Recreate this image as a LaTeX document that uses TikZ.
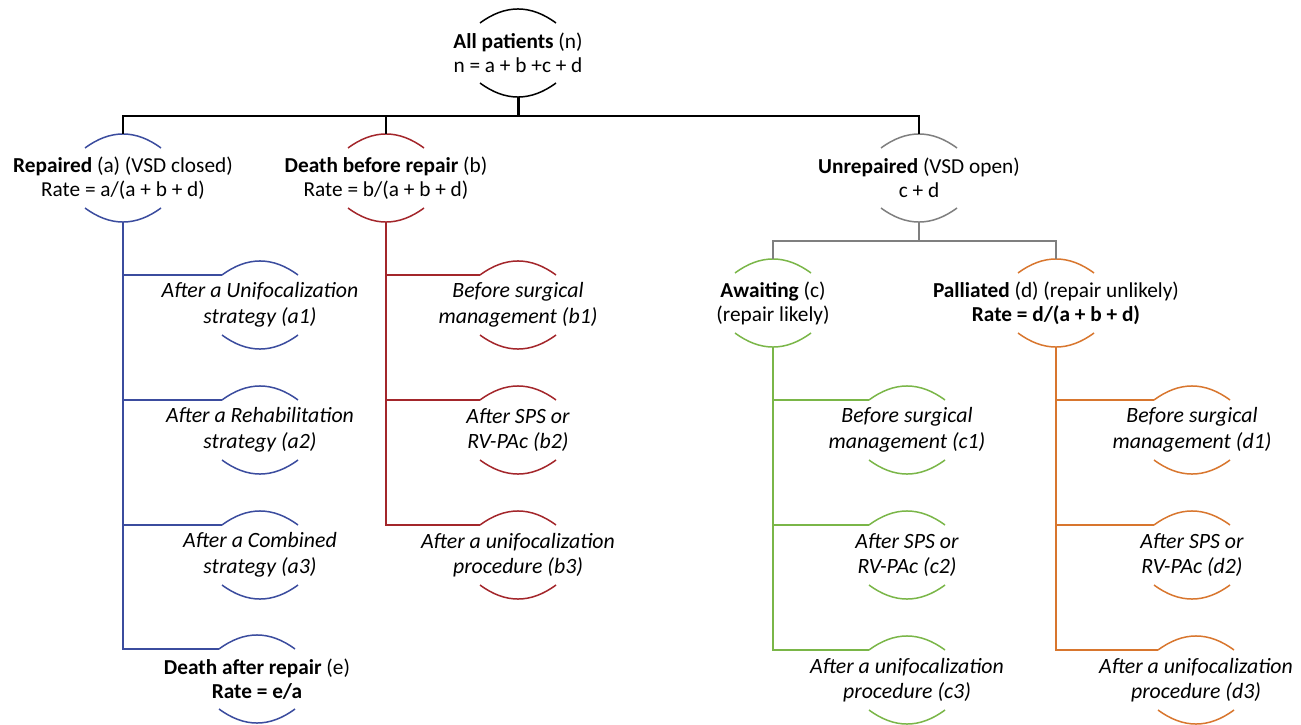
\documentclass[tikz,border=0pt]{standalone}
\usepackage{fontspec}
\setmainfont{Carlito}
\usetikzlibrary{calc}
\definecolor{cblue}{HTML}{3B4C9E}
\definecolor{cred}{HTML}{A3262B}
\definecolor{cgreen}{HTML}{7AB648}
\definecolor{corange}{HTML}{D8762E}
\definecolor{cgray}{HTML}{7F7F7F}
\tikzset{
  big/.style={align=center, inner sep=0pt, font=\fontsize{21.3}{24}\selectfont},
  leaf/.style={align=center, inner sep=0pt, font=\fontsize{21.8}{25.5}\selectfont\itshape},
  arcline/.style={line width=1.5pt},
  conn/.style={line width=1.5pt},
}
% arcs above and below a named node, with anchor coordinates
\newcommand{\capsarcs}[2]{%
  \draw[#2, arcline] ($(#1.center)+(-38,-30)$) .. controls ($(#1.center)+(-12.7,-48.7)$) and ($(#1.center)+(12.7,-48.7)$) .. ($(#1.center)+(38,-30)$);
  \draw[#2, arcline] ($(#1.center)+(-38,30)$) .. controls ($(#1.center)+(-12.7,48.7)$) and ($(#1.center)+(12.7,48.7)$) .. ($(#1.center)+(38,30)$);
  \coordinate (#1-top) at ($(#1.center)+(0,-44)$);
  \coordinate (#1-tl) at ($(#1.center)+(-38,-30)$);
  \coordinate (#1-bot) at ($(#1.center)+(0,44)$);
}
\begin{document}
\begin{tikzpicture}[x=1pt,y=-1pt]
\useasboundingbox (0,0) rectangle (1301,725);
% level 0
\node[big] (root) at (518,53) {\textbf{All patients} (n)\\n = a + b +c + d};
\capsarcs{root}{black}
% level 1
\node[big] (rep) at (123,178) {\textbf{Repaired} (a) (VSD closed)\\Rate = a/(a + b + d)};
\capsarcs{rep}{cblue}
\node[big] (dbr) at (386,178) {\textbf{Death before repair} (b)\\Rate = b/(a + b + d)};
\capsarcs{dbr}{cred}
\node[big] (unr) at (919,178) {\textbf{Unrepaired} (VSD open)\\c + d};
\capsarcs{unr}{cgray}
% level 2 under unrepaired
\node[big] (aw) at (773,303) {\textbf{Awaiting} (c)\\(repair likely)};
\capsarcs{aw}{cgreen}
\node[big] (pal) at (1056,303) {\textbf{Palliated} (d) (repair unlikely)\\\textbf{Rate = d/(a + b + d)}};
\capsarcs{pal}{corange}
% leaves a
\node[leaf] (a1) at (260,305) {After a Unifocalization\\strategy (a1)};
\capsarcs{a1}{cblue}
\node[leaf] (a2) at (260,430) {After a Rehabilitation\\strategy (a2)};
\capsarcs{a2}{cblue}
\node[leaf] (a3) at (260,555) {After a Combined\\strategy (a3)};
\capsarcs{a3}{cblue}
\node[big] (e) at (257,679) {\textbf{Death after repair} (e)\\\textbf{Rate = e/a}};
\capsarcs{e}{cblue}
% leaves b
\node[leaf] (b1) at (518,305) {Before surgical\\management (b1)};
\capsarcs{b1}{cred}
\node[leaf] (b2) at (518,430) {After SPS or\\RV-PAc (b2)};
\capsarcs{b2}{cred}
\node[leaf] (b3) at (518,555) {After a unifocalization\\procedure (b3)};
\capsarcs{b3}{cred}
% leaves c
\node[leaf] (c1) at (907,430) {Before surgical\\management (c1)};
\capsarcs{c1}{cgreen}
\node[leaf] (c2) at (907,555) {After SPS or\\RV-PAc (c2)};
\capsarcs{c2}{cgreen}
\node[leaf] (c3) at (907,680) {After a unifocalization\\procedure (c3)};
\capsarcs{c3}{cgreen}
% leaves d
\node[leaf] (d1) at (1192,430) {Before surgical\\management (d1)};
\capsarcs{d1}{corange}
\node[leaf] (d2) at (1192,555) {After SPS or\\RV-PAc (d2)};
\capsarcs{d2}{corange}
\node[leaf] (d3) at (1196,680) {After a unifocalization\\procedure (d3)};
\capsarcs{d3}{corange}
% connectors level 0 -> 1
\coordinate (hub) at (518,116);
\draw[line width=3pt] (root-bot) -- (hub);
\draw[conn] (hub) -| (rep-top);
\draw[conn] (hub) -| (dbr-top);
\draw[conn] (hub) -| (unr-top);
% unrepaired -> awaiting / palliated
\coordinate (hub2) at (919,241);
\draw[conn, cgray] (unr-bot) -- (hub2);
\draw[conn, cgray] (hub2) -| (aw-top);
\draw[conn, cgray] (hub2) -| (pal-top);
% branches
\foreach \n in {a1,a2,a3,e} \draw[conn, cblue] (rep-bot) |- (\n-tl);
\foreach \n in {b1,b2,b3} \draw[conn, cred] (dbr-bot) |- (\n-tl);
\foreach \n in {c1,c2,c3} \draw[conn, cgreen] (aw-bot) |- (\n-tl);
\foreach \n in {d1,d2,d3} \draw[conn, corange] (pal-bot) |- (\n-tl);
\end{tikzpicture}
\end{document}
